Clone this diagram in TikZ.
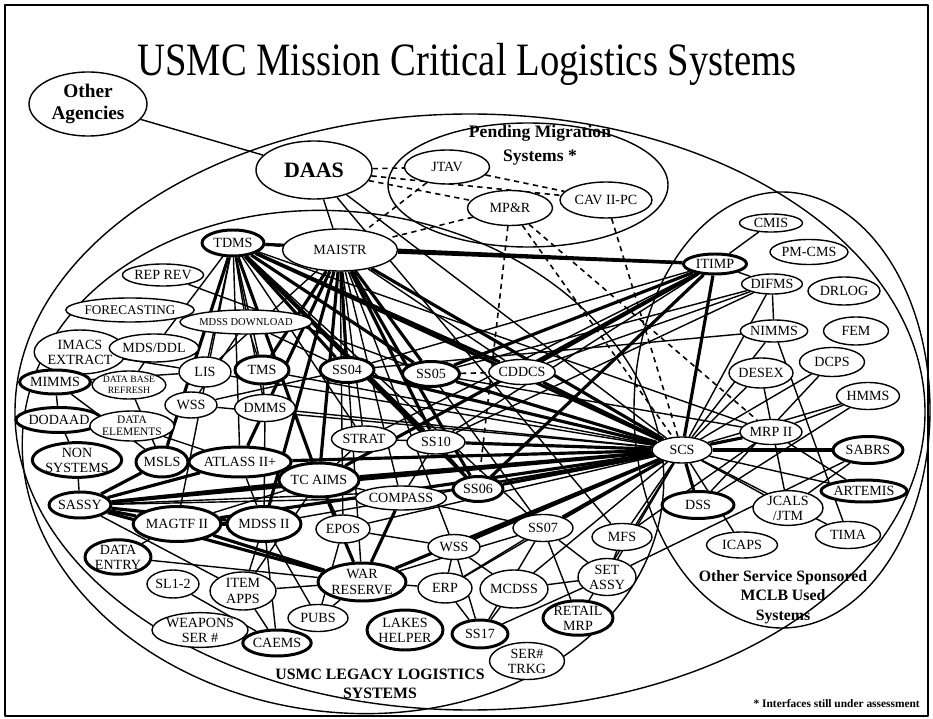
\documentclass[tikz,border=0pt]{standalone}
\usepackage{fontspec}
\usepackage{graphicx}
\setmainfont{Liberation Serif}
\usetikzlibrary{shapes.geometric,backgrounds}
\begin{document}
\begin{tikzpicture}[x=0.02cm,y=-0.02cm,line join=round,line cap=round]
	\tikzset{sys/.style 2 args={ellipse,draw,fill=white,line width=0.8pt,inner sep=0pt,minimum width=#1*0.02cm,minimum height=#2*0.02cm,align=center,font=\fontsize{8}{8.6}\selectfont},
		sysb/.style 2 args={sys={#1}{#2},line width=1.7pt},
		link/.style={line width=0.8pt},
		heavy/.style={line width=1.8pt},
		pend/.style={line width=0.9pt,dash pattern=on 3pt off 2.5pt},
		region/.style={line width=0.8pt},
		lbl/.style={align=center,font=\bfseries\fontsize{9}{11}\selectfont}}
	\useasboundingbox (0,0) rectangle (933,719);
	\draw[line width=0.8pt] (5,5) rectangle (928,716);
	\node (title) at (467,64) {\fontsize{22}{26}\selectfont\scalebox{1}[1.2]{USMC Mission Critical Logistics Systems}};
	
	\node[sys={118}{64},font=\bfseries\fontsize{11}{12.5}\selectfont] (oa) at (88,104) {Other\\Agencies};
	\node[sys={116}{58},font=\bfseries\fontsize{12.5}{13}\selectfont] (daas) at (314,170) {DAAS};
	\node[lbl,font=\bfseries\fontsize{10}{13.5}\selectfont] (pendlbl) at (540,145) {Pending Migration\\Systems *};
	\node[sys={85}{34}] (jtav) at (447,167) {JTAV};
	\node[sys={85}{35}] (mpr) at (510,208) {MP\&R};
	\node[sys={92}{36}] (cav) at (606,200) {CAV II-PC};
	\node[sys={115}{42}] (maistr) at (340,250) {MAISTR};
	
	\node[sysb={62}{26}] (tdms) at (233,243) {TDMS};
	\node[sys={77}{22}] (reprev) at (163,275) {REP REV};
	\node[sys={95}{24},font=\fontsize{7.5}{8}\selectfont] (fcast) at (130,310) {FORECASTING};
	\node[sys={93}{24},font=\fontsize{6}{7}\selectfont] (mdssdl) at (246,322) {MDSS DOWNLOAD};
	\node[sys={76}{44}] (imacs) at (80,352) {IMACS\\EXTRACT};
	\node[sys={62}{28}] (mdsddl) at (154,348) {MDS/DDL};
	\node[sysb={56}{24}] (mimms) at (55,382) {MIMMS};
	\node[sys={68}{28},font=\fontsize{5.5}{6}\selectfont] (dbref) at (129,385) {DATA BASE\\REFRESH};
	\node[sys={52}{30}] (lis) at (205,372) {LIS};
	\node[sysb={54}{28}] (tms) at (262,370) {TMS};
	\node[sys={52}{26}] (wssa) at (191,405) {WSS};
	\node[sys={55}{27}] (dmms) at (265,408) {DMMS};
	\node[sysb={68}{25}] (dodaad) at (59,420) {DODAAD};
	\node[sys={60}{30},font=\fontsize{6.5}{7}\selectfont] (delem) at (132,426) {DATA\\ELEMENTS};
	\node[sysb={76}{34}] (nonsys) at (77,460) {NON\\SYSTEMS};
	\node[sysb={52}{30}] (msls) at (162,462) {MSLS};
	\node[sysb={76}{30}] (atlass) at (240,462) {ATLASS II+};
	\node[sysb={72}{34}] (tcaims) at (319,480) {TC AIMS};
	\node[sysb={54}{26}] (sassy) at (80,505) {SASSY};
	\node[sysb={74}{35}] (magtf) at (177,524) {MAGTF II};
	\node[sysb={74}{35}] (mdss) at (264,524) {MDSS II};
	\node[sysb={66}{34}] (dentry) at (118,557) {DATA\\ENTRY};
	\node[sys={52}{28}] (sl) at (173,584) {SL1-2};
	\node[sys={66}{38}] (itemapps) at (243,591) {ITEM\\APPS};
	\node[sys={76}{34}] (weapons) at (200,630) {WEAPONS\\SER \#};
	\node[sysb={54}{26}] (caems) at (277,643) {CAEMS};
	\node[sys={60}{27}] (pubs) at (318,618) {PUBS};
	\node[sysb={88}{38}] (war) at (362,582) {WAR\\RESERVE};
	\node[sysb={76}{40}] (lakes) at (405,630) {LAKES\\HELPER};
	\node[sys={54}{30}] (erp) at (445,588) {ERP};
	\node[sysb={54}{25}] (ss04) at (347,370) {SS04};
	\node[sysb={57}{25}] (ss05) at (431,374) {SS05};
	\node[sys={63}{25}] (cddcs) at (522,372) {CDDCS};
	\node[sys={65}{26}] (strat) at (364,439) {STRAT};
	\node[sys={58}{24}] (ss10) at (436,442) {SS10};
	\node[sys={67}{24}] (compass) at (401,498) {COMPASS};
	\node[sysb={50}{25}] (ss06) at (478,489) {SS06};
	\node[sys={54}{28}] (epos) at (343,529) {EPOS};
	\node[sys={60}{27}] (ss07) at (543,528) {SS07};
	\node[sys={52}{25}] (wssb) at (454,547) {WSS};
	\node[sys={68}{38}] (mcdss) at (514,589) {MCDSS};
	\node[sys={58}{37}] (setassy) at (607,577) {SET\\ASSY};
	\node[sys={60}{27}] (mfs) at (622,537) {MFS};
	\node[sysb={70}{32}] (retail) at (578,618) {RETAIL\\MRP};
	\node[sysb={56}{28}] (ss17) at (480,634) {SS17};
	\node[sys={75}{37}] (sertrkg) at (527,661) {SER\#\\TRKG};
	\node[lbl] (leglbl) at (380,684) {USMC LEGACY LOGISTICS\\SYSTEMS};
	
	\node[sysb={63}{20}] (itimp) at (715,264) {ITIMP};
	\node[sys={63}{18}] (cmis) at (771,223) {CMIS};
	\node[sys={78}{25}] (pmcms) at (809,252) {PM-CMS};
	\node[sys={55}{20}] (difms) at (772,284) {DIFMS};
	\node[sys={72}{28}] (drlog) at (844,291) {DRLOG};
	\node[sys={55}{22}] (nimms) at (774,331) {NIMMS};
	\node[sys={65}{28}] (fem) at (856,331) {FEM};
	\node[sys={65}{29}] (dcps) at (832,362) {DCPS};
	\node[sys={63}{30}] (desex) at (761,373) {DESEX};
	\node[sys={63}{27}] (hmms) at (868,396) {HMMS};
	\node[sys={62}{25}] (mrp) at (771,432) {MRP II};
	\node[sys={60}{26}] (scs) at (682,450) {SCS};
	\node[sysb={70}{27}] (sabrs) at (868,450) {SABRS};
	\node[sysb={62}{22}] (artemis) at (864,491) {ARTEMIS};
	\node[sysb={72}{27}] (dss) at (698,505) {DSS};
	\node[sys={70}{33}] (jcals) at (788,508) {JCALS\\/JTM};
	\node[sys={71}{26}] (icaps) at (742,545) {ICAPS};
	\node[sys={65}{27}] (tima) at (848,535) {TIMA};
	\node[lbl] (othlbl) at (783,597) {Other Service Sponsored\\MCLB Used\\Systems};
	\node[anchor=east,font=\bfseries\fontsize{6.5}{7}\selectfont] (note) at (926,704) {* Interfaces still under assessment};
	
	\begin{scope}[on background layer]
		\draw[region] (470,412) ellipse [x radius=455, y radius=298];
		\draw[region,rotate around={-8:(343,462)}] (343,462) ellipse [x radius=322, y radius=250];
		\draw[region] (528,185) ellipse [x radius=140, y radius=62];
		\draw[region] (782,410) ellipse [x radius=148, y radius=218];
		\foreach \a/\b in {oa/daas,daas/maistr,daas/scs,daas/mfs,reprev/ss05,fcast/mdssdl,imacs/lis,mdsddl/tdms,mdsddl/dbref,
			mimms/dodaad,mimms/lis,mimms/msls,dodaad/nonsys,nonsys/sassy,delem/atlass,dbref/msls,
			lis/tdms,lis/maistr,lis/scs,tms/tdms,tms/mdssdl,tms/dmms,tms/scs,wssa/mdssdl,wssa/ss04,wssa/scs,
			dmms/tdms,dmms/maistr,dmms/scs,dmms/mdss,mdssdl/tdms,mdssdl/ss04,atlass/tdms,atlass/mdss,
			tcaims/compass,tcaims/epos,tcaims/strat,tcaims/itemapps,strat/maistr,strat/tdms,strat/scs,strat/itimp,
			ss10/compass,ss10/ss06,ss10/itimp,ss10/difms,compass/scs,compass/ss07,compass/maistr,
			epos/scs,epos/wssb,epos/maistr,epos/pubs,sassy/compass,sassy/itemapps,sassy/ss06,
			magtf/tdms,magtf/tcaims,dentry/magtf,dentry/war,sl/caems,mdss/itemapps,mdss/pubs,mdss/caems,mdss/scs,
			itemapps/caems,itemapps/war,pubs/war,war/erp,war/ss07,war/maistr,erp/wssb,erp/ss07,erp/ss17,erp/scs,
			ss07/tdms,ss07/maistr,ss07/setassy,ss07/ss17,ss07/retail,wssb/maistr,wssb/ss17,wssb/mcdss,
			mcdss/scs,mcdss/ss17,mcdss/setassy,setassy/sabrs,setassy/mfs,setassy/scs,mfs/scs,mfs/mrp,
			retail/scs,ss17/setassy,itimp/cmis,itimp/difms,itimp/ss04,difms/nimms,difms/scs,difms/ss05,
			nimms/tima,nimms/scs,nimms/ss04,dcps/scs,dcps/dss,desex/scs,desex/jcals,hmms/scs,hmms/mrp,hmms/dss,
			mrp/artemis,mrp/tdms,mrp/ss05,scs/artemis,scs/icaps,scs/jcals,scs/tima,sabrs/jcals,cddcs/difms,cddcs/maistr}
		\draw[link] (\a) -- (\b);
		\foreach \a/\b in {tdms/ss04,tdms/ss05,tdms/ss10,tdms/ss06,tdms/cddcs,tdms/scs,tdms/tcaims,tdms/itimp,tdms/msls,
			maistr/itimp,maistr/scs,maistr/ss04,maistr/ss05,maistr/ss10,maistr/ss06,maistr/tcaims,maistr/atlass,maistr/mdss,maistr/tms,
			ss04/scs,ss05/scs,ss05/itimp,cddcs/scs,cddcs/itimp,ss10/scs,ss06/scs,ss06/itimp,ss07/scs,wssb/scs,
			tcaims/scs,tcaims/itimp,atlass/scs,atlass/msls,msls/sassy,sassy/atlass,sassy/tcaims,sassy/magtf,sassy/mdss,sassy/scs,sassy/war,
			magtf/mdss,magtf/war,magtf/scs,war/compass,war/scs,war/tcaims,itimp/scs,scs/sabrs,scs/dss,scs/mrp}
		\draw[heavy] (\a) -- (\b);
		\foreach \a/\b in {daas/jtav,daas/mpr,daas/cav,jtav/cav,jtav/maistr,mpr/maistr,mpr/ss06,mpr/scs,mpr/mrp,cav/scs,tdms/maistr,ss05/cddcs}
		\draw[pend] (\a) -- (\b);
	\end{scope}
\end{tikzpicture}
\end{document}
